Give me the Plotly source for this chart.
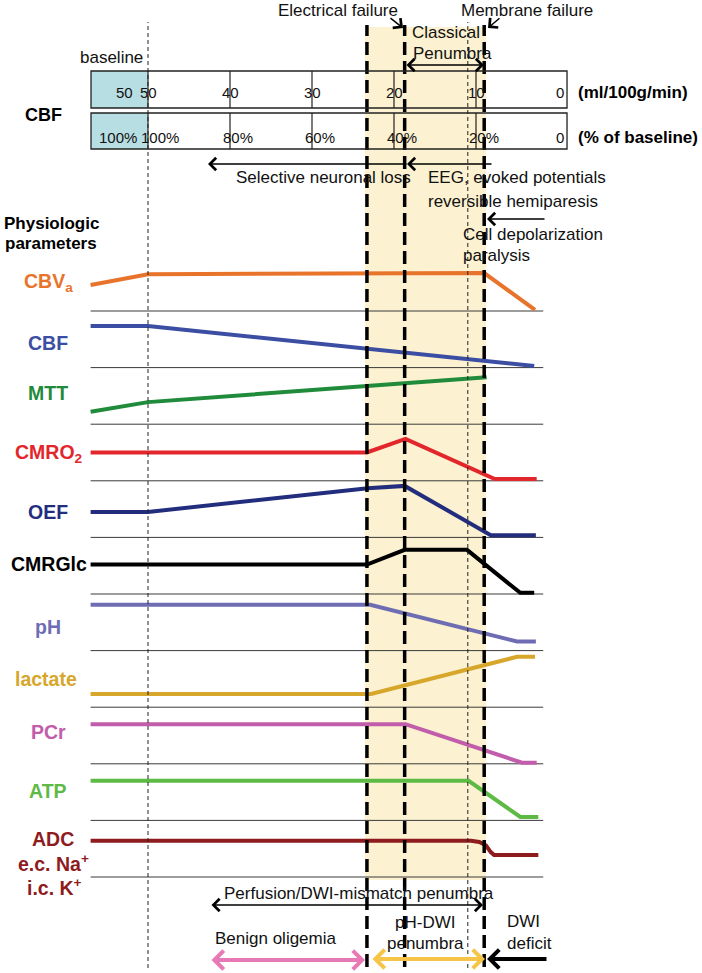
import plotly.graph_objects as go

W, H = 702, 973
FONT = "Liberation Sans, Arial, sans-serif"

# ---------------- data (x = CBF in ml/100g/min, v = relative level inside each row) -------------
row_names = ["CBVa", "CBF", "MTT", "CMRO2", "OEF", "CMRGlc", "pH", "lactate", "PCr", "ATP", "ADC"]
row_labels = ["CBV<sub>a</sub>", "CBF", "MTT", "CMRO<sub>2</sub>", "OEF", "CMRGlc", "pH",
              "lactate", "PCr", "ATP", "ADC"]
row_colors = ["#E8742C", "#3B4EA3", "#1F8B3B", "#E3262B", "#232D7E", "#000000", "#6E6DB3",
              "#D6A72B", "#C15DAA", "#5DBA45", "#8E1B1E"]

cbva_x = [57, 50, 9.0, 2.8]
cbva_v = [0.46, 0.65, 0.67, 0.02]
cbf_x = [57, 50, 2.9]
cbf_v = [0.735, 0.735, 0.03]
mtt_x = [57, 50, 8.7]
mtt_v = [0.22, 0.39, 0.83]
cmro2_x = [57, 23.3, 18.6, 7.7, 2.6]
cmro2_v = [0.50, 0.50, 0.74, 0.03, 0.03]
oef_x = [57, 50, 23.2, 18.7, 8.2, 2.7]
oef_v = [0.45, 0.45, 0.87, 0.91, 0.04, 0.04]
cmrglc_x = [57, 23.3, 18.7, 11.1, 4.6, 2.9]
cmrglc_v = [0.52, 0.52, 0.78, 0.78, 0.02, 0.02]
ph_x = [57, 22.9, 5.0, 2.7]
ph_v = [0.81, 0.81, 0.16, 0.16]
lactate_x = [57, 22.8, 5.0, 2.8]
lactate_v = [0.235, 0.235, 0.89, 0.89]
pcr_x = [57, 18.6, 4.4, 2.6]
pcr_v = [0.70, 0.70, 0.02, 0.02]
atp_x = [57, 10.9, 4.6, 2.4]
atp_v = [0.70, 0.70, 0.06, 0.06]
adc_x = [57, 10.6, 9.6, 8.8, 8.2, 7.8, 2.4]
adc_v = [0.64, 0.64, 0.62, 0.56, 0.44, 0.39, 0.39]

series_x = [cbva_x, cbf_x, mtt_x, cmro2_x, oef_x, cmrglc_x, ph_x, lactate_x, pcr_x, atp_x, adc_x]
series_v = [cbva_v, cbf_v, mtt_v, cmro2_v, oef_v, cmrglc_v, ph_v, lactate_v, pcr_v, atp_v, adc_v]

# CBF scale boxes
scale_ticks = [40, 30, 20, 10]
ml_ticks = [50, 40, 30, 20, 10, 0]
ml_labels = ["50", "40", "30", "20", "10", "0"]
pct_labels = ["100%", "80%", "60%", "40%", "20%", "0"]
baseline_value = "50"
baseline_pct = "100%"

# thresholds (ml/100g/min)
thick_thresholds = [23.3, 18.7, 9.0]
thin_thresholds = [50, 11.0]
yellow_band = [23.55, 8.75]

# ---------------- geometry helpers (layout only) ----------------
X_LEFT, X_RIGHT = 68.049, -17.561     # CBF axis range across the canvas
ROW_H = 56.6
Y_BOT, Y_TOP = -96 / ROW_H, 877 / ROW_H


def px(x):
    return x / W


def py(y):
    return 1 - y / H


fig = go.Figure()

# yellow band
fig.add_shape(type="rect", xref="x", yref="paper", x0=yellow_band[0], x1=yellow_band[1],
              y0=py(880), y1=py(27), fillcolor="#FCF1D0", line=dict(width=0), layer="below")

# rows
n = len(row_names)
for i in range(n):
    base = (n - 1) - i
    fig.add_trace(go.Scatter(x=series_x[i], y=[base + v for v in series_v[i]], mode="lines",
                             line=dict(color=row_colors[i], width=4), hoverinfo="skip",
                             showlegend=False, name=row_names[i]))
    fig.add_shape(type="line", xref="x", yref="y", x0=57, x1=1.8, y0=base, y1=base,
                  line=dict(color="#3a3a3a", width=1), layer="below")

# threshold lines
for t in thin_thresholds:
    fig.add_shape(type="line", xref="x", yref="paper", x0=t, x1=t, y0=py(968), y1=py(22),
                  line=dict(color="#222", width=1, dash="4px,3px"), layer="above")
for t in thick_thresholds:
    fig.add_shape(type="line", xref="x", yref="paper", x0=t, x1=t, y0=py(967), y1=py(25),
                  line=dict(color="#000", width=3.5, dash="13px,6px"), layer="above")

# CBF scale boxes
boxes = [(71, 108), (113, 149)]
for (t, b) in boxes:
    fig.add_shape(type="rect", xref="x", yref="paper", x0=56.95, x1=50, y0=py(b), y1=py(t),
                  fillcolor="#B7DEE2", line=dict(width=0), layer="below")
    fig.add_shape(type="rect", xref="x", yref="paper", x0=56.95, x1=-1.1, y0=py(b), y1=py(t),
                  line=dict(color="#222", width=1.3))
    for tk in [50] + scale_ticks:
        fig.add_shape(type="line", xref="x", yref="paper", x0=tk, x1=tk, y0=py(b), y1=py(t),
                      line=dict(color="#222", width=1.2))

TXT = dict(family=FONT, size=15, color="#111")
fig.add_annotation(x=52.9, y=py(93), xref="x", yref="paper", text=baseline_value,
                   showarrow=False, font=TXT, xanchor="center", yanchor="middle")
fig.add_annotation(x=53.7, y=py(137), xref="x", yref="paper", text=baseline_pct,
                   showarrow=False, font=TXT, xanchor="center", yanchor="middle")
for v, lab in zip(ml_ticks, ml_labels):
    fig.add_annotation(x=v if v > 0 else -0.25, y=py(93), xref="x", yref="paper", text=lab,
                       showarrow=False, font=TXT, xanchor="center", yanchor="middle")
for v, lab in zip(ml_ticks, pct_labels):
    if v > 0:
        fig.add_annotation(x=v + 1.05, y=py(137), xref="x", yref="paper", text=lab,
                           showarrow=False, font=TXT, xanchor="left", yanchor="middle")
    else:
        fig.add_annotation(x=-0.25, y=py(137), xref="x", yref="paper", text=lab,
                           showarrow=False, font=TXT, xanchor="center", yanchor="middle")

BOLD = dict(family=FONT, size=17, color="#000")
fig.add_annotation(x=px(576), y=py(93), xref="paper", yref="paper", text="<b>(ml/100g/min)</b>",
                   showarrow=False, font=BOLD, xanchor="left", yanchor="middle")
fig.add_annotation(x=px(576), y=py(137), xref="paper", yref="paper", text="<b>(% of baseline)</b>",
                   showarrow=False, font=BOLD, xanchor="left", yanchor="middle")
fig.add_annotation(x=px(43), y=py(115), xref="paper", yref="paper", text="<b>CBF</b>",
                   showarrow=False, font=dict(family=FONT, size=18, color="#000"),
                   xanchor="center", yanchor="middle")
fig.add_annotation(x=px(51), y=py(223), xref="paper", yref="paper", text="<b>Physiologic</b>",
                   showarrow=False, font=dict(family=FONT, size=17, color="#000"),
                   xanchor="center", yanchor="middle")
fig.add_annotation(x=px(51), y=py(243), xref="paper", yref="paper", text="<b>parameters</b>",
                   showarrow=False, font=dict(family=FONT, size=17, color="#000"),
                   xanchor="center", yanchor="middle")

# row labels
label_y = [282, 343, 393, 453, 512, 564, 627, 679, 732, 791, 839]
label_x = [48, 48, 48, 49, 48, 49, 48, 46, 48, 48, 53]
for i in range(n):
    fig.add_annotation(x=px(label_x[i]), y=py(label_y[i]), xref="paper", yref="paper",
                       text="<b>" + row_labels[i] + "</b>", showarrow=False,
                       font=dict(family=FONT, size=19.5, color=row_colors[i]),
                       xanchor="center", yanchor="middle")
for txt, yy, xx in [("e.c. Na<sup>+</sup>", 863, 53), ("i.c. K<sup>+</sup>", 887, 55)]:
    fig.add_annotation(x=px(xx), y=py(yy), xref="paper", yref="paper", text="<b>" + txt + "</b>",
                       showarrow=False, font=dict(family=FONT, size=19.5, color=row_colors[-1]),
                       xanchor="center", yanchor="middle")

# plain texts
REG = dict(family=FONT, size=17, color="#111")
texts = [
    ("baseline", 111.5, 57, "center"),
    ("Electrical failure", 337.5, 11, "center"),
    ("Membrane failure", 527, 10, "center"),
    ("Classical", 410, 33, "left"),
    ("Penumbra", 411, 53, "left"),
    ("Selective neuronal loss", 323.5, 178, "center"),
    ("EEG, evoked potentials", 426, 178, "left"),
    ("reversible hemiparesis", 426, 201, "left"),
    ("Cell depolarization", 461, 235, "left"),
    ("paralysis", 461, 255, "left"),
    ("Perfusion/DWI-mismatch penumbra", 222, 893, "left"),
    ("Benign oligemia", 276, 938, "center"),
    ("pH-DWI", 425, 922, "center"),
    ("penumbra", 425, 943, "center"),
    ("DWI", 505, 921, "left"),
    ("deficit", 505, 943, "left"),
]
for t, x, y, anc in texts:
    fig.add_annotation(x=px(x), y=py(y), xref="paper", yref="paper", text=t, showarrow=False,
                       font=REG, xanchor=anc, yanchor="middle")


def arrow(xh, yh, xt, yt, color="#000", width=1.5, both=False, head=4, size=1.6):
    fig.add_annotation(x=px(xh), y=py(yh), xref="paper", yref="paper",
                       ax=xt - xh, ay=yt - yh, axref="pixel", ayref="pixel", text="",
                       showarrow=True, arrowhead=head, arrowsize=size, arrowwidth=width,
                       arrowcolor=color, arrowside="end+start" if both else "end",
                       startarrowhead=head, startarrowsize=size, standoff=0, startstandoff=0)


arrow(403, 28, 389, 17)
arrow(488, 28, 501, 17)
arrow(484, 65, 405, 65, both=True)
arrow(208, 164, 408, 164)
arrow(407, 164, 493, 164)
arrow(487, 219, 546, 219)
arrow(483, 905, 210, 905, both=True)
arrow(365, 960, 210, 960, color="#E779B4", width=4, both=True, size=0.9)
arrow(485, 959, 371, 959, color="#F6C548", width=4, both=True, size=0.9)
arrow(487, 959, 548, 959, color="#000", width=4, size=0.9)

fig.update_layout(
    width=W, height=H, margin=dict(l=0, r=0, t=0, b=0),
    paper_bgcolor="white", plot_bgcolor="white",
    xaxis=dict(range=[X_LEFT, X_RIGHT], visible=False, fixedrange=True),
    yaxis=dict(range=[Y_BOT, Y_TOP], visible=False, fixedrange=True),
    showlegend=False,
)

fig.write_html("out.html", config={"displayModeBar": False},
               post_script="document.body.style.margin='0px';")
